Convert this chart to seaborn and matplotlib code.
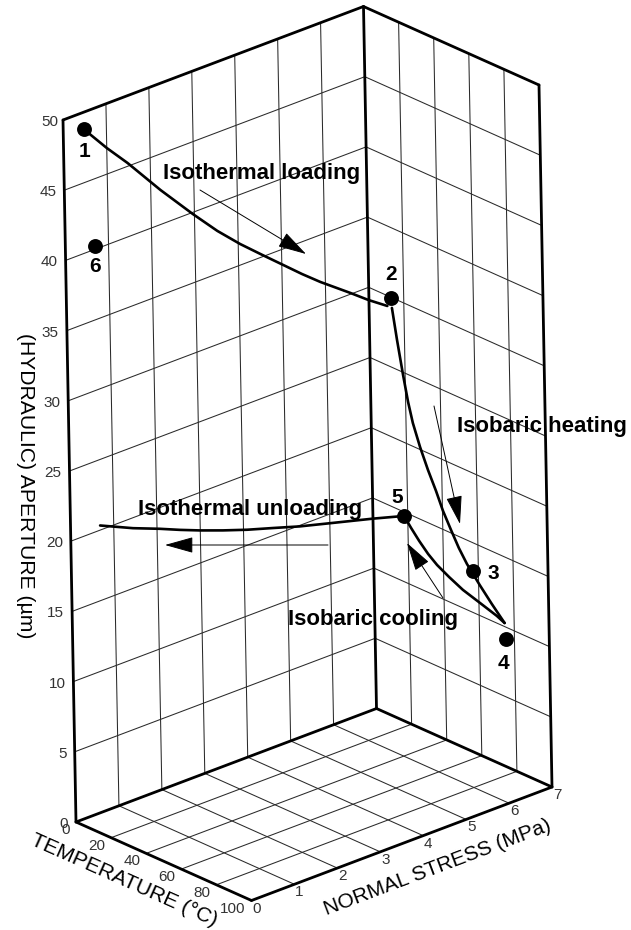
import numpy as np
import pandas as pd
import matplotlib
matplotlib.use("Agg")
import matplotlib.pyplot as plt
import seaborn as sns

# axis ranges and ticks
temp_ticks = [0, 20, 40, 60, 80, 100]
stress_ticks = [0, 1, 2, 3, 4, 5, 6, 7]
aperture_ticks = [0, 5, 10, 15, 20, 25, 30, 35, 40, 45, 50]

# path of the test (temperature, normal stress, aperture)
loading_stress = [0.0, 0.52, 0.99, 1.74, 2.48, 3.04, 3.56, 4.07, 4.55, 4.98, 5.40, 6.09, 6.50, 6.94]
loading_aperture = [50.0, 48.07, 46.47, 43.68, 41.11, 39.26, 37.73, 36.36, 35.09, 33.95, 32.90, 31.32, 30.35, 29.41]
loading_temp = [12] * len(loading_stress)

heating_temp = [15.6, 18.2, 21.3, 23.9, 26.4, 30.3, 34.6, 39.0, 42.8, 47.2, 51.5, 56.0, 63.1, 69.9, 77.0]
heating_aperture = [29.52, 27.38, 25.06, 23.28, 21.93, 20.43, 19.04, 17.79, 16.58, 15.47, 14.43, 13.54, 12.44, 11.46, 10.51]
heating_stress = [6.9] * len(heating_temp)

cooling_temp = [77.0, 72.6, 63.1, 53.4, 45.6, 38.8, 33.8, 28.8, 24.3, 20.4]
cooling_aperture = [10.51, 10.77, 11.16, 11.55, 12.03, 12.51, 13.01, 13.66, 14.33, 14.97]
cooling_stress = [6.9] * len(cooling_temp)

unloading_temp = [20.4, 17, 17, 17, 17, 17, 17, 17, 17, 17, 17, 17]
unloading_stress = [6.9, 6.32, 5.39, 4.62, 4.0, 3.40, 2.84, 2.31, 1.85, 1.38, 0.76, 0.0]
unloading_aperture = [14.97, 15.26, 16.03, 16.67, 17.27, 17.84, 18.44, 19.05, 19.62, 20.24, 21.0, 22.07]

# numbered states
state_names = ["1", "2", "3", "4", "5", "6"]
state_temp = [12, 12, 59.4, 77.5, 20.4, 12]
state_stress = [0.0, 7.03, 6.9, 6.9, 6.9, 0.2]
state_aperture = [50.0, 29.9, 13.2, 9.4, 15.0, 41.5]


# the box is drawn in parallel projection, image pixels come from these vectors
def project(temp, stress, aperture):
    temp = np.asarray(temp, dtype=float) / 100
    stress = np.asarray(stress, dtype=float) / 7
    aperture = np.asarray(aperture, dtype=float) / 50
    x = 76 + 175.5 * temp + 300.5 * stress - 13 * aperture
    y = 822 + 78.5 * temp - 113.5 * stress - 702 * aperture
    return x, y


def segments(rows):
    # rows of (temp0, stress0, ap0, temp1, stress1, ap1) -> long table for lineplot
    out = []
    for i, r in enumerate(rows):
        x, y = project([r[0], r[3]], [r[1], r[4]], [r[2], r[5]])
        out.append(pd.DataFrame({"x": x, "y": y, "line": i}))
    return pd.concat(out, ignore_index=True)


sns.set_theme(style="white")
plt.rcParams["font.family"] = ["Liberation Sans", "DejaVu Sans"]
plt.rcParams["text.color"] = "black"

fig = plt.figure(figsize=(6.31, 9.30), dpi=100)
ax = fig.add_axes([0, 0, 1, 1])

# grid on the two walls and the floor
grid = []
for s in stress_ticks[1:-1]:
    grid.append((0, s, 0, 0, s, 50))
    grid.append((0, s, 0, 100, s, 0))
for t in temp_ticks[1:-1]:
    grid.append((t, 7, 0, t, 7, 50))
    grid.append((t, 0, 0, t, 7, 0))
for a in aperture_ticks[1:-1]:
    grid.append((0, 0, a, 0, 7, a))
    grid.append((0, 7, a, 100, 7, a))
sns.lineplot(data=segments(grid), x="x", y="y", units="line", estimator=None,
             sort=False, color="#2a2a2a", linewidth=0.75, legend=False, ax=ax)

# heavy box edges
edges = [
    (0, 0, 0, 0, 0, 50), (0, 7, 0, 0, 7, 50), (100, 7, 0, 100, 7, 50),
    (0, 0, 50, 0, 7, 50), (0, 7, 50, 100, 7, 50),
    (0, 0, 0, 0, 7, 0), (0, 7, 0, 100, 7, 0),
    (100, 7, 0, 100, 0, 0), (100, 0, 0, 0, 0, 0),
]
sns.lineplot(data=segments(edges), x="x", y="y", units="line", estimator=None,
             sort=False, color="black", linewidth=2.0, legend=False, ax=ax)

# test path
for temp, stress, aperture in [
    (loading_temp, loading_stress, loading_aperture),
    (heating_temp, heating_stress, heating_aperture),
    (cooling_temp, cooling_stress, cooling_aperture),
    (unloading_temp, unloading_stress, unloading_aperture),
]:
    x, y = project(temp, stress, aperture)
    sns.lineplot(x=x, y=y, sort=False, estimator=None, color="black",
                 linewidth=1.9, legend=False, ax=ax)

state_x, state_y = project(state_temp, state_stress, state_aperture)
sns.scatterplot(x=state_x, y=state_y, s=115, color="black", linewidth=0,
                legend=False, zorder=5, ax=ax)

# state numbers, offset from the dots
state_offsets = [(0, 22), (0, -23), (20, 2), (-2, 25), (-7, -18), (0, 21)]
for name, x, y, off in zip(state_names, state_x, state_y, state_offsets):
    ax.text(x + off[0], y + off[1], name, fontsize=15, fontweight="bold",
            color="black", ha="center", va="center")

# process labels
ax.text(163, 174, "Isothermal loading", fontsize=16, fontweight="bold", ha="left", va="center")
ax.text(457, 426, "Isobaric heating", fontsize=16, fontweight="bold", ha="left", va="center")
ax.text(138, 509, "Isothermal unloading", fontsize=16, fontweight="bold", ha="left", va="center")
ax.text(288, 619, "Isobaric cooling", fontsize=16, fontweight="bold", ha="left", va="center")

# direction arrows
arrow_style = dict(arrowstyle="-|>,head_length=1.0,head_width=0.28", mutation_scale=18,
                   color="black", lw=0.7, shrinkA=0, shrinkB=0)
for tail, tip in [((200, 190), (306, 254)), ((434, 406), (460, 524)),
                  ((328, 545), (165, 545)), ((443, 598), (407, 543))]:
    ax.annotate("", xy=tip, xytext=tail, arrowprops=arrow_style)

# tick labels
tick_color = "#333333"
for a in aperture_ticks:
    x, y = project(0, 0, a)
    ax.text(x - 8 if a < 50 else x - 5, y + 2, str(a), fontsize=11, color=tick_color, ha="right", va="center")
for t in temp_ticks:
    x, y = project(t, 0, 0)
    ax.text(x - 6, y + 8, str(t), fontsize=11, color=tick_color, ha="right", va="center")
for s in stress_ticks:
    x, y = project(100, s, 0)
    ax.text(x + 5, y + 8, str(s), fontsize=11, color=tick_color, ha="center", va="center")

# axis titles
ax.text(124, 880, "TEMPERATURE (°C)", fontsize=15.2, rotation=-24, rotation_mode="anchor",
        ha="center", va="center")
ax.text(437, 867, "NORMAL STRESS (MPa)", fontsize=15, rotation=20.7, rotation_mode="anchor",
        ha="center", va="center")
ax.text(25, 486, "(HYDRAULIC) APERTURE (µm)", fontsize=15.2, rotation=270, rotation_mode="anchor",
        ha="center", va="center")

ax.set_xlim(0, 631)
ax.set_ylim(930, 0)
ax.axis("off")

plt.savefig("out.png", dpi=100)
